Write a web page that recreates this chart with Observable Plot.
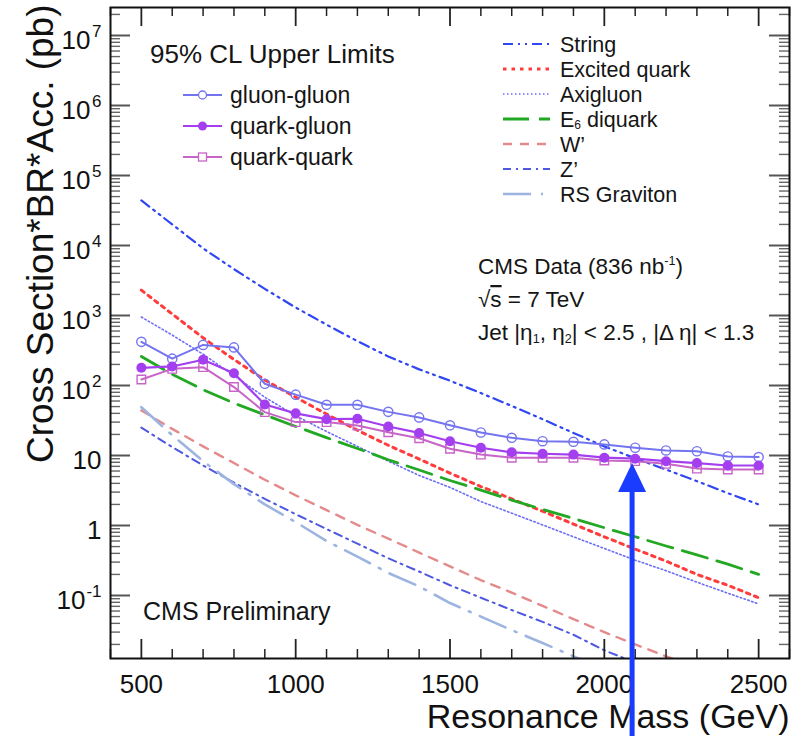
<!DOCTYPE html>
<html>
<head>
<meta charset="utf-8">
<script src="https://cdn.jsdelivr.net/npm/d3@7"></script>
<script src="https://cdn.jsdelivr.net/npm/@observablehq/plot@0.6"></script>
<style>
  body { margin: 0; background: #ffffff; }
  #chart { width: 804px; height: 736px; }
</style>
</head>
<body>
<div id="chart"></div>
<script>
// ---------- data ----------
const masses = [500,600,700,800,900,1000,1100,1200,1300,1400,1500,1600,1700,1800,1900,2000,2100,2200,2300,2400,2500];

// 95% CL upper limits (pb)
const gluonGluon = [420,242,380,350,106,74,53,53,42,35,27,21.3,17.9,16,15.7,14.4,12.9,11.8,11.5,9.7,9.5];
const quarkGluon = [179,187,233,150,53.5,40,33,33.5,26,21,16,12.9,11.1,10.6,10.3,9.3,9.0,8.3,7.8,7.2,7.2];
const quarkQuark = [122,173,183,95,41.6,30,30,26.8,21.5,17.6,12.5,10.3,9.3,9.3,9.3,8.5,8.3,7.6,6.5,6.3,6.3];

// theory curves (pb)
const stringRes    = [44000,20000,9100,4600,2400,1300,740,430,260,170,117,78,51,33,21,13.5,9.1,6.3,4.3,2.9,2.0];
const excitedQuark = [2300,1050,480,235,120,68,39,23,14,8.9,5.6,3.6,2.4,1.6,1.05,0.69,0.46,0.31,0.20,0.14,0.093];
const axigluon     = [950,525,280,138,68,37,22,13.5,8.3,5.2,3.5,2.2,1.5,1.02,0.69,0.47,0.32,0.226,0.155,0.108,0.076];
const e6Diquark    = [260,145,87,56,38,26,18,12.6,8.7,6.2,4.4,3.2,2.3,1.7,1.26,0.93,0.69,0.51,0.38,0.28,0.20];
const wPrime       = [44,24,13.5,7.8,4.5,2.7,1.66,1.02,0.65,0.41,0.26,0.166,0.11,0.071,0.046,0.030,0.020,0.0135,0.0093];
const zPrime       = [25,13.2,7.2,4.1,2.4,1.45,0.89,0.55,0.34,0.22,0.14,0.093,0.062,0.042,0.0275,0.0165,0.011];
const rsGraviton   = [49,19.5,8.3,3.9,2.0,1.12,0.60,0.36,0.21,0.135,0.078,0.050,0.032,0.021,0.0135,0.0089];

// axes
const xMajorTicks = [500,1000,1500,2000,2500];
const xTickLabels = ["500","1000","1500","2000","2500"];
const yMajorTicks = [0.1,1,10,100,1e3,1e4,1e5,1e6,1e7];
const yTickBase = ["10","1","10","10","10","10","10","10","10"];
const yTickExp  = ["-1","","","2","3","4","5","6","7"];

// annotation: arrow
const arrowMark = [{mass: 2090, tip: 7.8, tail: 0.0007}];

const limitNames = ["gluon-gluon","quark-gluon","quark-quark"];
const theoryNames = ["String","Excited quark","Axigluon","E6 diquark","W’","Z’","RS Graviton"];

// ---------- styling ----------
const colGG = "#7474f0", colQG = "#a43ff0", colQQ = "#c764c7";
const theoryStyles = [
  {stroke: "#2f46f2", dash: "10,5,2,5,2,5", width: 2.2},
  {stroke: "#ff3c3c", dash: "3.5,5", width: 3},
  {stroke: "#6c6cf4", dash: "1.5,2.5", width: 1.6},
  {stroke: "#22a822", dash: "26,10", width: 2.8},
  {stroke: "#e48a8a", dash: "9,8", width: 2.4},
  {stroke: "#4e58e0", dash: "8,5,2,5", width: 2},
  {stroke: "#9db4e0", dash: "28,10,2,10", width: 2.6}
];
const theorySeries = [stringRes, excitedQuark, axigluon, e6Diquark, wPrime, zPrime, rsGraviton];

const toRows = (vals) => vals.map((v, i) => ({mass: masses[i], value: v}));

const W = 804, H = 736, mL = 110, mR = 15, mT = 7, mB = 78;
const frameH = H - mT - mB, frameW = W - mL - mR;

const yMinorTicks = [];
for (let k = -2; k <= 7; k++) for (let m = 2; m <= 9; m++) {
  const v = m * Math.pow(10, k);
  if (v > Math.pow(10, -1.9) && v < Math.pow(10, 7.4)) yMinorTicks.push(v);
}
const xMinorTicks = d3.range(400, 2601, 100).filter(v => v % 500 !== 0);

const yLabels = yMajorTicks.map((v, i) => ({v, base: yTickBase[i], exp: yTickExp[i]}));

const triangle = {
  draw(ctx) { ctx.moveTo(0, 0); ctx.lineTo(14, 29); ctx.lineTo(-14, 29); ctx.closePath(); }
};

const tickCol = "#222";
const marks = [];

// theory curves
theorySeries.forEach((s, i) => {
  const st = theoryStyles[i];
  marks.push(Plot.line(toRows(s), {x: "mass", y: "value", stroke: st.stroke, strokeWidth: st.width,
    strokeDasharray: st.dash, clip: true}));
});

// limits
marks.push(
  Plot.line(toRows(gluonGluon), {x: "mass", y: "value", stroke: colGG, strokeWidth: 2}),
  Plot.dot(toRows(gluonGluon), {x: "mass", y: "value", stroke: colGG, fill: "none", r: 4.6, strokeWidth: 1.4}),
  Plot.line(toRows(quarkQuark), {x: "mass", y: "value", stroke: colQQ, strokeWidth: 2}),
  Plot.dot(toRows(quarkQuark), {x: "mass", y: "value", stroke: colQQ, fill: "none", symbol: "square", r: 4.8, strokeWidth: 1.4}),
  Plot.line(toRows(quarkGluon), {x: "mass", y: "value", stroke: colQG, strokeWidth: 2.2}),
  Plot.dot(toRows(quarkGluon), {x: "mass", y: "value", fill: colQG, r: 5})
);

// frame and ticks
marks.push(
  Plot.ruleX(xMajorTicks, {x: d => d, insetTop: frameH - 19, stroke: tickCol, strokeWidth: 1.8}),
  Plot.ruleX(xMajorTicks, {x: d => d, insetBottom: frameH - 19, stroke: tickCol, strokeWidth: 1.8}),
  Plot.ruleX(xMinorTicks, {x: d => d, insetTop: frameH - 9, stroke: tickCol, strokeWidth: 1.5}),
  Plot.ruleX(xMinorTicks, {x: d => d, insetBottom: frameH - 9, stroke: tickCol, strokeWidth: 1.5}),
  Plot.ruleY(yMajorTicks, {y: d => d, insetRight: frameW - 20, stroke: "#555", strokeWidth: 2}),
  Plot.ruleY(yMajorTicks, {y: d => d, insetLeft: frameW - 20, stroke: "#555", strokeWidth: 2}),
  Plot.ruleY(yMinorTicks, {y: d => d, insetRight: frameW - 10, stroke: "#666", strokeWidth: 1.4}),
  Plot.ruleY(yMinorTicks, {y: d => d, insetLeft: frameW - 10, stroke: "#666", strokeWidth: 1.4}),
  Plot.frame({stroke: "#111", strokeWidth: 2})
);

// tick labels
marks.push(
  Plot.text(xMajorTicks, {x: d => d, text: (d, i) => xTickLabels[i], frameAnchor: "bottom", lineAnchor: "bottom",
    dy: 34, fontSize: 26, fill: "#111"}),
  Plot.text(yLabels, {y: "v", text: "exp", frameAnchor: "left", textAnchor: "end", lineAnchor: "bottom",
    dx: -9, dy: 1, fontSize: 17, fill: "#111"}),
  Plot.text(yLabels.filter(d => d.exp === ""), {y: "v", text: "base", frameAnchor: "left", textAnchor: "end",
    lineAnchor: "bottom", dx: -9, dy: 13, fontSize: 26, fill: "#111"}),
  Plot.text(yLabels.filter(d => d.exp.length === 1), {y: "v", text: "base", frameAnchor: "left", textAnchor: "end",
    lineAnchor: "bottom", dx: -20, dy: 13, fontSize: 26, fill: "#111"}),
  Plot.text(yLabels.filter(d => d.exp.length === 2), {y: "v", text: "base", frameAnchor: "left", textAnchor: "end",
    lineAnchor: "bottom", dx: -25, dy: 13, fontSize: 26, fill: "#111"}),
  Plot.text(["Resonance Mass (GeV)"], {frameAnchor: "bottom-right", textAnchor: "end", lineAnchor: "bottom",
    dy: 69, fontSize: 34, fill: "#111"}),
  Plot.text(["Cross Section*BR*Acc. (pb)"], {frameAnchor: "top-left", rotate: -90, textAnchor: "end",
    lineAnchor: "bottom", dx: -58, dy: -3, fontSize: 37, fill: "#111"})
);

// arrow annotation
marks.push(
  Plot.ruleX(arrowMark, {x: "mass", y1: "tip", y2: "tail", stroke: "#1a3cff", strokeWidth: 5, dy: 10}),
  Plot.dot(arrowMark, {x: "mass", y: "tip", symbol: triangle, fill: "#1a3cff", stroke: "none", r: 10})
);

const svg = Plot.plot({
  width: W, height: H,
  marginTop: mT, marginBottom: mB, marginLeft: mL, marginRight: mR,
  x: {domain: [400, 2600], axis: null},
  y: {type: "log", domain: [Math.pow(10, -1.9), Math.pow(10, 7.4)], axis: null},
  style: {fontFamily: "'Liberation Sans', Arial, Helvetica, sans-serif", background: "#ffffff", overflow: "visible"},
  marks
});
document.getElementById("chart").appendChild(svg);

// ---------- legends and annotations ----------
const root = d3.select(svg).append("g")
  .attr("font-family", "'Liberation Sans', Arial, Helvetica, sans-serif")
  .attr("text-anchor", "start")
  .attr("fill", "#151515");

function richText(g, x, y, parts, size) {
  const t = g.append("text").attr("x", x).attr("y", y).attr("font-size", size).attr("text-anchor", "start");
  let cur = 0;
  parts.forEach(p => {
    const target = p.sub ? size * 0.12 : p.sup ? -size * 0.4 : 0;
    const ts = t.append("tspan").text(p.t);
    if (target !== cur) ts.attr("dy", target - cur);
    if (p.sub || p.sup) ts.attr("font-size", size * 0.56);
    if (p.over) ts.style("text-decoration", "overline");
    cur = target;
  });
  return t;
}

// left legend
richText(root, 150, 63, [{t: "95% CL Upper Limits"}], 26);
const limCols = [colGG, colQG, colQQ];
limitNames.forEach((name, i) => {
  const y = 95 + i * 31;
  root.append("line").attr("x1", 183).attr("x2", 222).attr("y1", y).attr("y2", y)
    .attr("stroke", limCols[i]).attr("stroke-width", 2);
  if (i === 0) root.append("circle").attr("cx", 202.5).attr("cy", y).attr("r", 4).attr("fill", "white").attr("stroke", colGG).attr("stroke-width", 1.3);
  if (i === 1) root.append("circle").attr("cx", 202.5).attr("cy", y).attr("r", 4.5).attr("fill", colQG);
  if (i === 2) root.append("rect").attr("x", 198.5).attr("y", y - 4).attr("width", 8).attr("height", 8).attr("fill", "white").attr("stroke", colQQ).attr("stroke-width", 1.3);
  richText(root, 230, y + 8, [{t: name}], 23);
});

// right legend
theoryNames.forEach((name, i) => {
  const y = 44 + i * 25;
  const st = theoryStyles[i];
  root.append("line").attr("x1", 503).attr("x2", 550).attr("y1", y).attr("y2", y)
    .attr("stroke", st.stroke).attr("stroke-width", st.width).attr("stroke-dasharray", st.dash);
  const parts = name === "E6 diquark" ? [{t: "E"}, {t: "6", sub: true}, {t: " diquark"}] : [{t: name}];
  richText(root, 560, y + 7.5, parts, 21.5);
});

// data annotations
richText(root, 478, 274, [{t: "CMS Data (836 nb"}, {t: "-1", sup: true}, {t: ")"}], 22.5);
richText(root, 478, 307, [{t: "√"}, {t: "s", over: true}, {t: " = 7 TeV"}], 22.5);
richText(root, 478, 340, [{t: "Jet |η"}, {t: "1", sub: true}, {t: ", η"}, {t: "2", sub: true},
  {t: "| < 2.5 , |Δ η| < 1.3"}], 22.5);
richText(root, 143, 620, [{t: "CMS Preliminary"}], 25);
</script>
</body>
</html>
